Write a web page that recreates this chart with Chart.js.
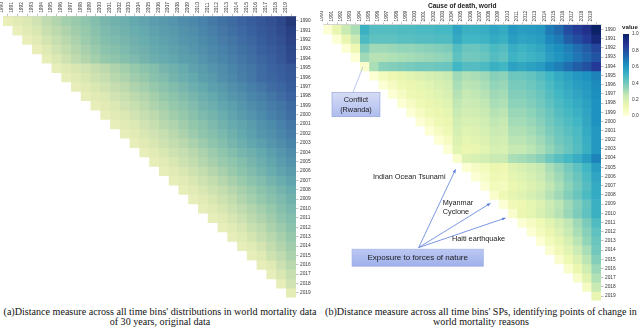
<!DOCTYPE html>
<html>
<head>
<meta charset="utf-8">
<script src="https://cdn.jsdelivr.net/npm/chart.js@4"></script>
<style>
  body { margin: 0; background: #fff; width: 640px; height: 333px; position: relative; overflow: hidden; font-family: "Liberation Sans", Arial, sans-serif; }
  canvas { position: absolute; }
  #left { left: 0; top: 0; }
  #right { left: 320px; top: 0; }
  #bar { left: 605px; top: 22px; }
  .cbtitle { position: absolute; left: 622px; top: 23px; font-size: 6.2px; font-weight: bold; color: #222; }
  .cap { position: absolute; top: 307px; width: 320px; text-align: center; white-space: nowrap; font-family: "Liberation Serif", "Times New Roman", serif; font-size: 10.1px; line-height: 10px; color: #111; }
</style>
</head>
<body>
<canvas id="left" width="320" height="302"></canvas>
<canvas id="right" width="300" height="305"></canvas>
<canvas id="bar" width="35" height="100"></canvas>
<div class="cbtitle">value</div>
<div class="cap" style="left:0">(a)Distance measure across all time bins' distributions in world mortality data<br>of 30 years, original data</div>
<div class="cap" style="left:321px">(b)Distance measure across all time bins' SPs, identifying points of change in<br>world mortality reasons</div>
<script>
// years used for both axes
var years = ['1990','1991','1992','1993','1994','1995','1996','1997','1998','1999',
  '2000','2001','2002','2003','2004','2005','2006','2007','2008','2009',
  '2010','2011','2012','2013','2014','2015','2016','2017','2018','2019'];

// (a) original data, value x100, each row starts on the diagonal
var leftValues = [
  [3,8,11,15,21,25,29,32,35,39,43,45,47,50,52,55,57,59,62,64,67,70,73,76,79,82,86,89,93,100],
  [3,8,12,18,22,26,30,33,37,41,43,45,48,50,53,55,57,60,62,65,68,71,74,77,80,84,87,91,97],
  [3,8,14,19,23,27,31,35,39,41,43,46,48,51,53,55,58,60,63,66,69,72,75,78,82,85,89,95],
  [3,10,15,20,24,28,32,36,38,41,44,46,49,51,53,56,58,61,64,67,70,73,76,80,83,87,93],
  [5,11,16,21,25,29,33,35,38,41,44,47,49,51,54,56,59,62,65,68,71,74,78,81,85,92],
  [4,9,12,15,19,22,26,29,33,36,39,43,46,49,53,56,59,62,66,69,72,75,79,82,86],
  [4,9,12,16,19,23,26,30,33,37,40,44,47,50,54,57,61,64,68,71,75,78,81,84],
  [4,8,12,15,19,22,26,29,33,36,40,43,47,50,54,57,61,64,68,71,75,78,82],
  [4,8,11,15,18,22,25,29,33,36,40,43,47,50,54,58,61,65,68,72,75,79],
  [4,8,11,15,18,22,26,29,33,36,40,44,47,51,54,58,62,65,69,72,76],
  [4,8,11,15,19,22,26,30,33,37,41,44,48,52,56,59,63,67,70,74],
  [4,8,11,15,19,23,26,30,34,37,41,45,49,52,56,60,63,67,71],
  [4,8,12,15,19,23,27,31,35,38,42,46,50,54,58,61,65,69],
  [4,8,12,16,20,23,27,31,35,39,43,47,51,54,58,62,66],
  [4,8,12,16,19,23,27,31,35,39,43,46,50,54,58,62],
  [4,8,12,16,20,24,28,32,35,39,43,47,51,55,59],
  [4,8,12,16,20,24,28,32,36,40,44,48,52,56],
  [4,8,12,16,20,24,28,32,36,40,44,48,52],
  [4,8,12,16,20,24,28,32,36,40,44,48],
  [4,8,12,16,20,25,29,33,37,41,45],
  [4,8,12,17,21,25,29,33,38,42],
  [4,8,13,17,22,26,30,35,39],
  [4,9,13,18,22,27,31,36],
  [4,9,14,19,23,28,33],
  [4,9,14,20,25,30],
  [4,10,16,21,27],
  [4,10,17,23],
  [4,12,19],
  [4,15],
  [6]
];

// (b) cause of death, value x100
var rightValues = [
  [2,14,24,30,52,46,46,46,47,47,48,48,49,49,56,52,52,53,56,54,60,58,59,60,68,72,80,85,90,100],
  [2,14,24,48,44,44,44,45,45,46,46,47,47,54,50,50,51,54,52,58,56,57,58,65,68,75,80,85,95],
  [2,12,38,32,32,33,34,34,35,36,37,38,46,42,42,44,48,46,53,51,53,55,60,63,67,71,76,82],
  [2,32,28,28,29,30,31,32,33,34,35,44,40,40,42,46,44,51,49,51,53,58,61,65,69,73,78],
  [4,30,36,37,38,39,40,40,41,42,50,46,46,48,52,50,57,55,57,59,64,67,71,75,79,86],
  [2,8,12,14,16,18,20,22,24,32,29,30,32,36,35,41,41,43,46,50,54,57,60,62,66],
  [2,7,11,13,15,17,19,21,30,27,28,30,34,33,39,39,41,44,48,52,55,58,60,64],
  [2,7,11,13,15,17,19,28,25,26,28,32,31,37,37,39,42,46,50,53,56,59,63],
  [2,7,11,13,15,17,26,23,24,26,30,29,35,35,37,40,44,48,51,54,57,62],
  [2,7,11,13,15,24,21,22,24,28,27,33,33,35,38,42,46,49,52,56,62],
  [2,7,11,13,22,19,20,22,26,25,31,31,33,36,40,44,47,50,55,62],
  [2,7,11,20,17,18,20,24,23,29,29,31,34,38,42,45,48,54,60],
  [2,7,18,15,16,18,22,21,27,27,29,32,36,40,43,47,53,60],
  [2,16,13,14,16,20,19,25,25,27,30,34,38,42,46,52,60],
  [4,18,19,21,24,24,30,31,33,36,41,45,49,53,58,66],
  [2,6,9,13,12,17,19,22,25,30,34,39,44,50,58],
  [2,6,11,10,15,17,20,23,28,32,37,42,48,56],
  [2,9,8,13,15,18,21,26,30,35,40,46,54],
  [4,11,15,17,20,23,28,32,37,42,48,54],
  [2,10,12,15,18,23,27,32,37,43,52],
  [4,13,15,19,24,28,33,38,44,52],
  [2,7,11,16,21,26,32,38,47],
  [2,8,13,18,24,30,36,44],
  [2,9,14,20,27,34,42],
  [3,10,16,23,30,40],
  [3,11,18,27,37],
  [4,13,22,33],
  [5,16,29],
  [7,24],
  [14]
];

// colour maps
var leftStops = [[0,'#eef1bc'],[0.1,'#dfeab4'],[0.22,'#bddaae'],[0.35,'#8fc5ac'],[0.5,'#64a9ae'],[0.65,'#4a86aa'],[0.8,'#3a619f'],[0.92,'#2f4a8e'],[1,'#263a7a']];
var rightStops = [[0,'#ffffd9'],[0.125,'#edf8b1'],[0.25,'#c7e9b4'],[0.375,'#7fcdbb'],[0.5,'#41b6c4'],[0.625,'#1d91c0'],[0.75,'#225ea8'],[0.875,'#253494'],[1,'#0c2268']];

function hexRgb(h) {
  return [parseInt(h.slice(1,3),16), parseInt(h.slice(3,5),16), parseInt(h.slice(5,7),16)];
}
function colorAt(stops, t) {
  t = Math.max(0, Math.min(1, t));
  for (var k = 1; k < stops.length; k++) {
    if (t <= stops[k][0]) {
      var a = stops[k-1], b = stops[k];
      var f = (t - a[0]) / (b[0] - a[0]);
      var ca = hexRgb(a[1]), cb = hexRgb(b[1]);
      return 'rgb(' + ca.map(function (v, i) { return Math.round(v + (cb[i] - v) * f); }).join(',') + ')';
    }
  }
  return stops[stops.length-1][1];
}

function rowDatasets(values, stops) {
  return values.map(function (row, r) {
    return {
      data: years.map(function (y, c) { return c >= r ? [r, r + 1] : null; }),
      backgroundColor: years.map(function (y, c) { return c >= r ? colorAt(stops, row[c - r] / 100) : 'rgba(0,0,0,0)'; }),
      grouped: false,
      barPercentage: 1,
      categoryPercentage: 1,
      borderWidth: 0
    };
  });
}

var tickFont = { family: 'Liberation Sans', size: 4.8 };

function heatScales(topHeight, rightWidth) {
  return {
    x: {
      type: 'category', position: 'top', offset: true,
      grid: { display: true, offset: false, drawOnChartArea: false, tickLength: 2.5, color: '#888', lineWidth: 0.5 },
      border: { display: true, color: '#aaa', width: 0.5 },
      ticks: { font: tickFont, color: '#333', minRotation: 90, maxRotation: 90, autoSkip: false, padding: 1 },
      afterFit: function (s) { s.height = topHeight; }
    },
    y: { type: 'linear', min: 0, max: 30, reverse: true, display: false },
    y2: {
      type: 'category', labels: years, position: 'right', offset: true,
      grid: { display: true, offset: false, drawOnChartArea: false, tickLength: 2.5, color: '#888', lineWidth: 0.5 },
      border: { display: false },
      ticks: { font: tickFont, color: '#333', autoSkip: false, padding: 1.5 },
      afterFit: function (s) { s.width = rightWidth; }
    }
  };
}

var leftChart = new Chart(document.getElementById('left'), {
  type: 'bar',
  data: { labels: years, datasets: rowDatasets(leftValues, leftStops) },
  options: {
    responsive: false, animation: false,
    layout: { padding: { left: 3, top: 0, right: 0, bottom: 2 } },
    plugins: { legend: { display: false }, tooltip: { enabled: false } },
    scales: heatScales(16.3, 24)
  }
});

function drawBox(ctx, x1, y1, x2, y2, top, bottom, edge) {
  var g = ctx.createLinearGradient(0, y1, 0, y2);
  g.addColorStop(0, top);
  g.addColorStop(1, bottom);
  ctx.fillStyle = g;
  ctx.fillRect(x1, y1, x2 - x1, y2 - y1);
  ctx.strokeStyle = edge;
  ctx.lineWidth = 0.6;
  ctx.strokeRect(x1, y1, x2 - x1, y2 - y1);
}
function drawArrow(ctx, x1, y1, x2, y2, head) {
  ctx.beginPath();
  ctx.moveTo(x1, y1);
  ctx.lineTo(x2, y2);
  ctx.stroke();
  if (head) {
    var a = Math.atan2(y2 - y1, x2 - x1);
    ctx.beginPath();
    ctx.moveTo(x2, y2);
    ctx.lineTo(x2 - 4 * Math.cos(a - 0.4), y2 - 4 * Math.sin(a - 0.4));
    ctx.lineTo(x2 - 4 * Math.cos(a + 0.4), y2 - 4 * Math.sin(a + 0.4));
    ctx.closePath();
    ctx.fill();
  }
}

// annotations of panel (b), placed in column index / row units
var notesPlugin = {
  id: 'notes',
  afterDatasetsDraw: function (chart) {
    var ctx = chart.ctx, sx = chart.scales.x, sy = chart.scales.y;
    var X = function (i) { return sx.getPixelForValue(i); };
    var Y = function (v) { return sy.getPixelForValue(v); };
    ctx.save();
    // Rwanda
    ctx.strokeStyle = '#9fb0e6'; ctx.lineWidth = 0.7;
    drawArrow(ctx, X(2.7), Y(7.35), X(3.78), Y(4.57), false);
    drawBox(ctx, X(0.44), Y(7.35), X(5.62), Y(9.99), '#d6dcf6', '#afbdee', '#8e9fd6');
    ctx.fillStyle = '#1a1a1a';
    ctx.font = '7.3px "Liberation Sans"';
    ctx.textAlign = 'center'; ctx.textBaseline = 'middle';
    ctx.fillText('Conflict', X(3.03), Y(8.18));
    ctx.fillText('(Rwanda)', X(3.03), Y(9.26));
    // forces of nature
    ctx.strokeStyle = '#5b7ddb'; ctx.fillStyle = '#5b7ddb'; ctx.lineWidth = 0.8;
    drawArrow(ctx, X(9.8), Y(24.23), X(13.8), Y(15.7), true);
    drawArrow(ctx, X(9.8), Y(24.23), X(17.56), Y(19.4), true);
    drawArrow(ctx, X(9.8), Y(24.23), X(19.2), Y(21.0), true);
    drawBox(ctx, X(2.6), Y(24.4), X(16.8), Y(26.26), '#bcc8f2', '#9fb0ea', '#9fb0ea');
    ctx.fillStyle = '#1a1a1a';
    ctx.font = '8px "Liberation Sans"';
    ctx.fillText('Exposure to forces of nature', X(9.7), Y(25.3));
    ctx.font = '7.3px "Liberation Sans"';
    ctx.textAlign = 'left';
    ctx.fillText('Indian Ocean Tsunami', X(4.86), Y(16.5));
    ctx.fillText('Myanmar', X(12.4), Y(19.35));
    ctx.fillText('Cyclone', X(12.4), Y(20.37));
    ctx.fillText('Haiti earthquake', X(13.4), Y(23.33));
    ctx.restore();
  }
};

var rightChart = new Chart(document.getElementById('right'), {
  type: 'bar',
  data: { labels: years, datasets: rowDatasets(rightValues, rightStops) },
  options: {
    responsive: false, animation: false,
    layout: { padding: { left: 3.3, top: 0, right: 0, bottom: 3.4 } },
    plugins: {
      legend: { display: false }, tooltip: { enabled: false },
      title: { display: true, fullSize: false, text: 'Cause of death, world', color: '#222',
        font: { family: 'Liberation Sans', size: 6.6, weight: 'bold' }, padding: { top: 2, bottom: 1 } }
    },
    scales: heatScales(14, 19)
  },
  plugins: [notesPlugin]
});

var barChart = new Chart(document.getElementById('bar'), {
  type: 'bar',
  data: {
    labels: ['value'],
    datasets: [{
      data: [[0, 1]],
      barPercentage: 1, categoryPercentage: 1, borderWidth: 0,
      backgroundColor: function (c) {
        var a = c.chart.chartArea;
        if (!a) return null;
        var g = c.chart.ctx.createLinearGradient(0, a.bottom, 0, a.top);
        rightStops.forEach(function (s) { g.addColorStop(s[0], s[1]); });
        return g;
      }
    }]
  },
  options: {
    responsive: false, animation: false,
    layout: { padding: { left: 18, top: 12, right: 0, bottom: 5 } },
    plugins: { legend: { display: false }, tooltip: { enabled: false } },
    scales: {
      x: { display: false },
      y: {
        position: 'right', min: 0, max: 1,
        grid: { display: false, drawTicks: false }, border: { display: false },
        ticks: { display: true, stepSize: 0.2, font: tickFont, color: '#333', padding: 3,
          callback: function (v) { return v.toFixed(1); } },
        afterFit: function (s) { s.width = 11; }
      }
    }
  }
});
</script>
</body>
</html>
